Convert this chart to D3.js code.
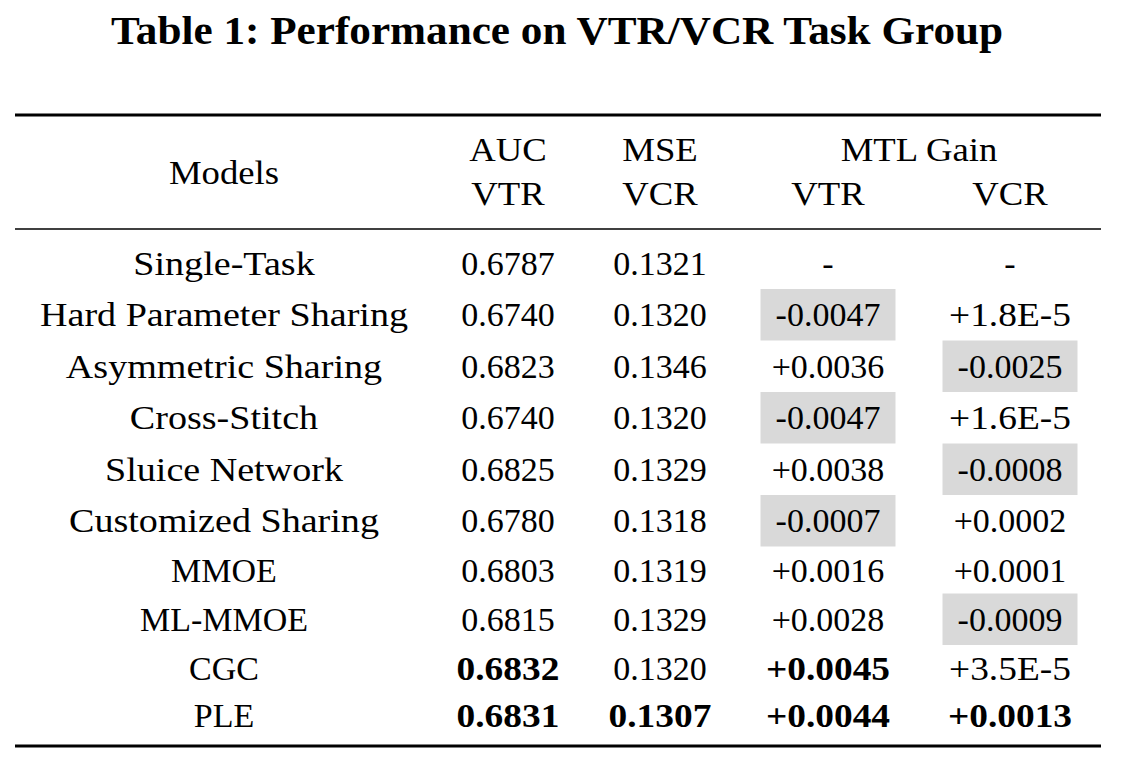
<!DOCTYPE html>
<html>
<head>
<meta charset="utf-8">
<script src="https://cdn.jsdelivr.net/npm/d3@7"></script>
<style>
  html, body { margin: 0; padding: 0; background: #fff; }
  svg { display: block; }
</style>
</head>
<body>
<svg id="chart" width="1122" height="762"></svg>
<script>
// ---------------- DATA ----------------
const title = "Table 1: Performance on VTR/VCR Task Group";
const models = ["Single-Task", "Hard Parameter Sharing", "Asymmetric Sharing", "Cross-Stitch",
  "Sluice Network", "Customized Sharing", "MMOE", "ML-MMOE", "CGC", "PLE"];
const aucVTR = ["0.6787", "0.6740", "0.6823", "0.6740", "0.6825", "0.6780", "0.6803", "0.6815", "0.6832", "0.6831"];
const mseVCR = ["0.1321", "0.1320", "0.1346", "0.1320", "0.1329", "0.1318", "0.1319", "0.1329", "0.1320", "0.1307"];
const gainVTR = ["-", "-0.0047", "+0.0036", "-0.0047", "+0.0038", "-0.0007", "+0.0016", "+0.0028", "+0.0045", "+0.0044"];
const gainVCR = ["-", "+1.8E-5", "-0.0025", "+1.6E-5", "-0.0008", "+0.0002", "+0.0001", "-0.0009", "+3.5E-5", "+0.0013"];
// best results (bold)
const boldAUC = ["CGC", "PLE"];
const boldMSE = ["PLE"];
const boldGainVTR = ["CGC", "PLE"];
const boldGainVCR = ["PLE"];
const headerTop = ["AUC", "MSE", "MTL Gain"];
const headerBottom = ["VTR", "VCR", "VTR", "VCR"];

// ---------------- LAYOUT ----------------
const svg = d3.select("#chart");
const FONT = "'Liberation Serif', 'Times New Roman', serif";
const FS = 34;
const capHalf = 11.5;
const left = 15, right = 1101;

// horizontal widening so the Times-like font matches the original's wider glyphs
function widen(sel, factor) {
  sel.each(function () {
    const w = this.getComputedTextLength();
    d3.select(this).attr("textLength", w * factor).attr("lengthAdjust", "spacingAndGlyphs");
  });
}

const colKeys = ["model", "auc", "mse", "gvtr", "gvcr"];
const x = d3.scaleOrdinal().domain(colKeys).range([224, 508, 660, 828, 1010]);

// row layout: shaded rows are a bit taller
const rowStart = 237;
const rowH = models.map((m, i) => {
  const shaded = gainVTR[i].startsWith("-0") || gainVCR[i].startsWith("-0");
  return (i === 0 ? 52 : (shaded ? 51.5 : 47));
});
const rowTops = [];
rowH.reduce((acc, h) => { rowTops.push(acc); return acc + h; }, rowStart);

// title
svg.append("text")
  .attr("x", 557).attr("y", 44)
  .attr("text-anchor", "middle")
  .attr("font-family", FONT).attr("font-weight", "bold").attr("font-size", 40)
  .text(title)
  .call(widen, 1.08);

// rules
const rules = [{ y: 115, w: 3 }, { y: 229, w: 1.5 }, { y: 746, w: 3 }];
svg.selectAll("line.rule").data(rules).enter().append("line")
  .attr("class", "rule")
  .attr("x1", left).attr("x2", right)
  .attr("y1", d => d.y).attr("y2", d => d.y)
  .attr("stroke", "#000").attr("stroke-width", d => d.w);

// header
const hdr = svg.append("g").attr("font-family", FONT).attr("font-size", FS).attr("text-anchor", "middle");
hdr.append("text").attr("x", x("model")).attr("y", 184).text("Models");
const topX = [x("auc"), x("mse"), (x("gvtr") + x("gvcr")) / 2];
headerTop.forEach((t, i) => hdr.append("text").attr("x", topX[i]).attr("y", 161).text(t));
["auc", "mse", "gvtr", "gvcr"].forEach((k, i) =>
  hdr.append("text").attr("x", x(k)).attr("y", 205).text(headerBottom[i]));
hdr.selectAll("text").call(widen, 1.08);

// shaded boxes for negative gains
const boxW = 135;
const shades = [];
models.forEach((m, i) => {
  if (gainVTR[i].startsWith("-0")) shades.push({ col: "gvtr", i });
  if (gainVCR[i].startsWith("-0")) shades.push({ col: "gvcr", i });
});
svg.selectAll("rect.shade").data(shades).enter().append("rect")
  .attr("class", "shade")
  .attr("x", d => x(d.col) - boxW / 2)
  .attr("y", d => rowTops[d.i])
  .attr("width", boxW)
  .attr("height", d => rowH[d.i])
  .attr("fill", "#d9d9d9");

// body cells
const cells = [];
models.forEach((m, i) => {
  const cy = rowTops[i] + rowH[i] / 2 + capHalf;
  cells.push({ col: "model", y: cy, t: m, b: false });
  cells.push({ col: "auc", y: cy, t: aucVTR[i], b: boldAUC.includes(m) });
  cells.push({ col: "mse", y: cy, t: mseVCR[i], b: boldMSE.includes(m) });
  cells.push({ col: "gvtr", y: cy, t: gainVTR[i], b: boldGainVTR.includes(m) });
  cells.push({ col: "gvcr", y: cy, t: gainVCR[i], b: boldGainVCR.includes(m) });
});
const bodyText = svg.append("g").selectAll("text").data(cells).enter().append("text")
  .attr("x", d => x(d.col)).attr("y", d => d.y)
  .attr("text-anchor", "middle")
  .attr("font-family", FONT).attr("font-size", FS)
  .attr("font-weight", d => d.b ? "bold" : "normal")
  .text(d => d.t);
bodyText.filter(d => d.col === "model" && /[a-z]/.test(d.t)).call(widen, 1.12);
bodyText.filter(d => d.col !== "model" && (d.b || /E/.test(d.t))).call(widen, 1.1);
</script>
</body>
</html>
